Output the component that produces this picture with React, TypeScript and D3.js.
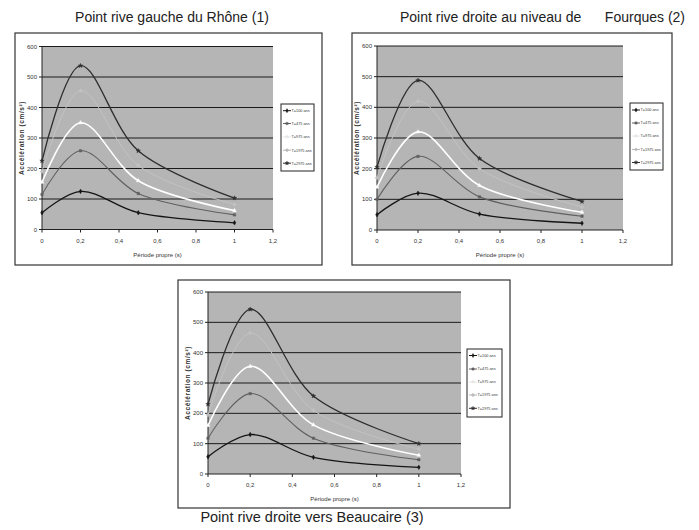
import React from "react";
import * as d3 from "d3";

const periods = [0, 0.2, 0.5, 1];
const seriesNames = ["T=100 ans", "T=475 ans", "T=975 ans", "T=1975 ans", "T=2975 ans"];

const panel1Values = [
  [55, 125, 55, 22],
  [115, 258, 118, 48],
  [155, 350, 160, 62],
  [190, 455, 210, 82],
  [225, 537, 258, 103],
];
const panel2Values = [
  [50, 120, 52, 22],
  [100, 240, 108, 45],
  [140, 320, 145, 58],
  [170, 420, 200, 75],
  [205, 488, 233, 93],
];
const panel3Values = [
  [57, 130, 55, 22],
  [118, 265, 118, 47],
  [160, 355, 162, 62],
  [195, 465, 210, 82],
  [230, 543, 257, 100],
];

const yTicks = [0, 100, 200, 300, 400, 500, 600];
const xTicks = [0, 0.2, 0.4, 0.6, 0.8, 1, 1.2];

const seriesColors = ["#151515", "#606060", "#ffffff", "#c3c3c3", "#2e2e2e"];
const seriesWidths = [1.3, 1.1, 1.6, 1.0, 1.3];
const seriesSymbols = [d3.symbolDiamond, d3.symbolSquare, d3.symbolTriangle, d3.symbolCross, d3.symbolStar];

const FONT = "'Liberation Sans', Arial, sans-serif";

type Box = { x: number; y: number; w: number; h: number };

function Panel({ frame, plot, legend, values, legendRows }: { frame: Box; plot: Box; legend: Box; values: number[][]; legendRows: number[] }) {
  const x = d3.scaleLinear().domain([0, 1.2]).range([plot.x, plot.x + plot.w]);
  const y = d3.scaleLinear().domain([0, 600]).range([plot.y + plot.h, plot.y]);
  const line = d3
    .line<number>()
    .x((_, i) => x(periods[i]))
    .y((d) => y(d))
    .curve(d3.curveCatmullRom.alpha(0.5));
  const sym = (i: number, s: number) => d3.symbol().type(seriesSymbols[i]).size(s)() as string;

  return (
    <g>
      <rect x={frame.x} y={frame.y} width={frame.w} height={frame.h} fill="#fff" stroke="#333" strokeWidth={1.2} />
      <rect x={plot.x} y={plot.y} width={plot.w} height={plot.h} fill="#b5b5b5" />
      {yTicks.slice(1).map((t) => (
        <line key={t} x1={plot.x} x2={plot.x + plot.w} y1={y(t)} y2={y(t)} stroke="#1a1a1a" strokeWidth={1} />
      ))}
      <line x1={plot.x} x2={plot.x} y1={plot.y} y2={plot.y + plot.h} stroke="#222" strokeWidth={1} />
      <line x1={plot.x} x2={plot.x + plot.w} y1={plot.y + plot.h} y2={plot.y + plot.h} stroke="#222" strokeWidth={1} />
      {yTicks.map((t) => (
        <g key={t}>
          <line x1={plot.x - 3} x2={plot.x} y1={y(t)} y2={y(t)} stroke="#222" />
          <text x={plot.x - 5} y={y(t) + 2} fontSize={6} textAnchor="end" fill="#333" fontFamily={FONT}>
            {t}
          </text>
        </g>
      ))}
      {xTicks.map((t) => (
        <g key={t}>
          <line x1={x(t)} x2={x(t)} y1={plot.y + plot.h} y2={plot.y + plot.h + 3} stroke="#222" />
          <text x={x(t)} y={plot.y + plot.h + 13} fontSize={6} textAnchor="middle" fill="#333" fontFamily={FONT}>
            {String(t).replace(".", ",")}
          </text>
        </g>
      ))}
      <text
        transform={`translate(${plot.x - 18},${plot.y + plot.h / 2}) rotate(-90)`}
        fontSize={6.5}
        fontWeight="bold"
        textAnchor="middle"
        fill="#333"
        fontFamily={FONT}
        letterSpacing={0.6}
      >
        Accélération (cm/s²)
      </text>
      <text x={plot.x + (x(1.2) - plot.x) / 2} y={plot.y + plot.h + 27} fontSize={6} textAnchor="middle" fill="#333" fontFamily={FONT}>
        Période propre (s)
      </text>
      {values.map((vals, i) => (
        <g key={i}>
          <path d={line(vals) as string} fill="none" stroke={seriesColors[i]} strokeWidth={seriesWidths[i]} />
          {vals.map((v, j) => (
            <path key={j} d={sym(i, 6)} transform={`translate(${x(periods[j])},${y(v)})`} fill={seriesColors[i]} stroke={seriesColors[i]} strokeWidth={0.5} />
          ))}
        </g>
      ))}
      <rect x={legend.x} y={legend.y} width={legend.w} height={legend.h} fill="#fff" stroke="#222" strokeWidth={1} />
      {seriesNames.map((n, i) => {
        const ly = legendRows[i];
        const col = i === 2 ? "#e6e6e6" : i === 3 ? "#b8b8b8" : seriesColors[i];
        return (
          <g key={n}>
            <line x1={legend.x + 2} x2={legend.x + 10} y1={ly} y2={ly} stroke={col} strokeWidth={1} />
            <path d={sym(i, 5)} transform={`translate(${legend.x + 6},${ly})`} fill={col} stroke={col} strokeWidth={0.4} />
            <text x={legend.x + 10.5} y={ly + 1.4} fontSize={3.8} fill="#333" fontFamily={FONT}>
              {n}
            </text>
          </g>
        );
      })}
    </g>
  );
}

export default function App() {
  return (
    <svg width={699} height={530} style={{ position: "absolute", left: 0, top: 0, background: "#fff" }}>
      <text x={172} y={22} fontSize={14} textAnchor="middle" fill="#222" fontFamily={FONT}>
        Point rive gauche du Rhône (1)
      </text>
      <text x={400} y={22} fontSize={14} textAnchor="start" fill="#222" fontFamily={FONT}>
        Point rive droite au niveau de
      </text>
      <text x={685} y={22} fontSize={14} textAnchor="end" fill="#222" fontFamily={FONT}>
        Fourques (2)
      </text>
      <Panel
        frame={{ x: 15, y: 33, w: 307, h: 232 }}
        plot={{ x: 42, y: 46.5, w: 231, h: 183 }}
        legend={{ x: 281, y: 104, w: 33, h: 67 }}
        values={panel1Values}
        legendRows={[110.7, 123.5, 136.8, 150.2, 163.2]}
      />
      <Panel
        frame={{ x: 352, y: 33, w: 320, h: 232 }}
        plot={{ x: 377, y: 46, w: 246, h: 184 }}
        legend={{ x: 630, y: 103, w: 33, h: 67 }}
        values={panel2Values}
        legendRows={[110, 123, 136, 149.5, 162.5]}
      />
      <Panel
        frame={{ x: 178, y: 280, w: 332, h: 228 }}
        plot={{ x: 208, y: 292, w: 253, h: 182 }}
        legend={{ x: 467, y: 349, w: 35, h: 68 }}
        values={panel3Values}
        legendRows={[355.5, 369, 382, 395, 408.3]}
      />
      <text x={312} y={522} fontSize={14.5} textAnchor="middle" fill="#222" fontFamily={FONT}>
        Point rive droite vers Beaucaire (3)
      </text>
    </svg>
  );
}
